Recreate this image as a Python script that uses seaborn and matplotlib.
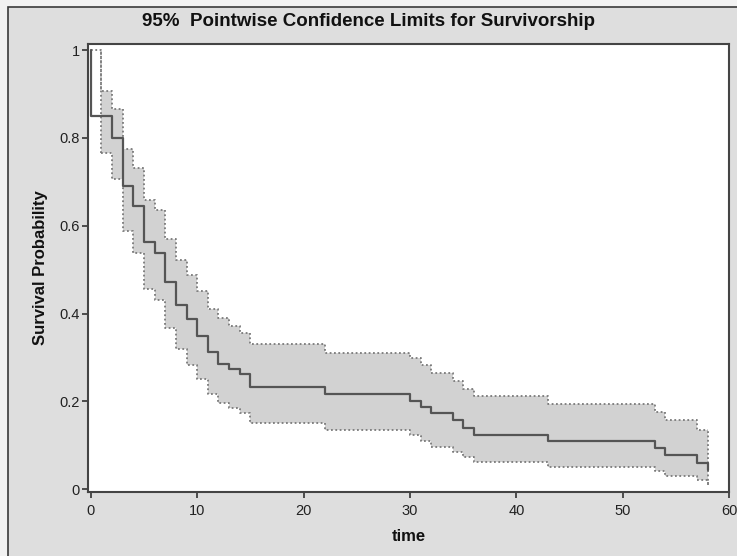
import matplotlib
matplotlib.use("Agg")
import matplotlib.pyplot as plt
import seaborn as sns
import pandas as pd
from matplotlib.patches import Rectangle

# ---- data ----
est_time = [0, 0, 2, 3, 4, 5, 6, 7, 8, 9, 10, 11, 12, 13, 14, 15, 22, 30, 31, 32,
            34, 35, 36, 43, 53, 54, 57, 58]
est_surv = [1.0, 0.85, 0.80, 0.691, 0.645, 0.564, 0.539, 0.472, 0.420, 0.387, 0.350,
            0.313, 0.286, 0.273, 0.262, 0.233, 0.218, 0.201, 0.188, 0.173, 0.157,
            0.140, 0.124, 0.109, 0.093, 0.078, 0.059, 0.043]

band_time = [1, 2, 3, 4, 5, 6, 7, 8, 9, 10, 11, 12, 13, 14, 15, 22, 30, 31, 32,
             34, 35, 36, 43, 53, 54, 57, 58]
upper_time = [0] + band_time
upper = [1.0, 0.906, 0.865, 0.774, 0.732, 0.659, 0.635, 0.569, 0.521, 0.488, 0.452,
         0.411, 0.389, 0.372, 0.356, 0.330, 0.311, 0.298, 0.283, 0.265, 0.246,
         0.229, 0.212, 0.195, 0.175, 0.158, 0.136, 0.136]
lower = [0.766, 0.707, 0.588, 0.539, 0.455, 0.432, 0.368, 0.319, 0.284, 0.250,
         0.218, 0.197, 0.186, 0.174, 0.150, 0.136, 0.123, 0.109, 0.096, 0.085,
         0.074, 0.063, 0.051, 0.041, 0.030, 0.020, 0.009]

x_ticks = [0, 10, 20, 30, 40, 50, 60]
y_ticks = [0, 0.2, 0.4, 0.6, 0.8, 1]
y_tick_labels = ["0", "0.2", "0.4", "0.6", "0.8", "1"]
title = "95%  Pointwise Confidence Limits for Survivorship"
x_label = "time"
y_label = "Survival Probability"

# ---- styling ----
sns.set_theme(style="white")
plt.rcParams["font.family"] = ["Liberation Sans", "DejaVu Sans"]

BG = "#dedede"
fig = plt.figure(figsize=(7.37, 5.56), dpi=100, facecolor="#f2f2f2")
W, H = 737, 556
# gray panel with dark frame on top/left
fig.patches.append(Rectangle((8 / W, -0.1), 1.2, 1 - 7 / H + 0.1,
                             transform=fig.transFigure, facecolor=BG,
                             edgecolor="#3a3a3a", linewidth=1.2, zorder=-10))

ax = fig.add_axes([88.3 / W, 1 - 491.7 / H, (729.3 - 88.3) / W, (491.7 - 44.3) / H])
ax.set_zorder(5)
ax.set_facecolor("white")

band_upper = upper[1:]
ax.fill_between(band_time, lower, band_upper, step="post",
                color="#d2d2d2", linewidth=0, zorder=1)

dot_style = dict(color="#7a7a7a", linewidth=1.3, linestyle=(0, (1, 1.4)))
df_up = pd.DataFrame({"time": upper_time, "val": upper})
df_lo = pd.DataFrame({"time": band_time, "val": lower})
sns.lineplot(data=df_up, x="time", y="val", estimator=None, sort=False, ax=ax,
             drawstyle="steps-post", zorder=2, **dot_style)
sns.lineplot(data=df_lo, x="time", y="val", estimator=None, sort=False, ax=ax,
             drawstyle="steps-post", zorder=2, **dot_style)
# band edges (start and end)
ax.vlines([band_time[0], band_time[-1]], [lower[0], lower[-1]],
          [upper[0], band_upper[-1]], zorder=2, **dot_style)

df_est = pd.DataFrame({"time": est_time, "surv": est_surv})
sns.lineplot(data=df_est, x="time", y="surv", estimator=None, sort=False, ax=ax,
             drawstyle="steps-post", color="#555555", linewidth=1.6, zorder=3)

ax.set_xlim(-0.23, 60)
ax.set_ylim(-0.0055, 1.013)
ax.set_xticks(x_ticks)
ax.set_xticklabels([str(v) for v in x_ticks])
ax.set_yticks(y_ticks)
ax.set_yticklabels(y_tick_labels)
ax.tick_params(axis="both", which="both", direction="out", length=4, width=1.2,
               color="#333333", labelcolor="#222222", labelsize=10.5, pad=2,
               bottom=True, left=True)
ax.tick_params(axis="x", pad=5)
for s in ax.spines.values():
    s.set_color("#444444")
    s.set_linewidth(1.5)

ax.set_xlabel(x_label, fontsize=12, fontweight="bold", color="#111111", labelpad=8)
ax.set_ylabel(y_label, fontsize=12, fontweight="bold", color="#111111", labelpad=8)
fig.text(0.5, 1 - 21 / H, title, ha="center", va="center", fontsize=13.5,
         fontweight="bold", color="#111111")

fig.savefig("out.png", dpi=100, facecolor=fig.get_facecolor())
